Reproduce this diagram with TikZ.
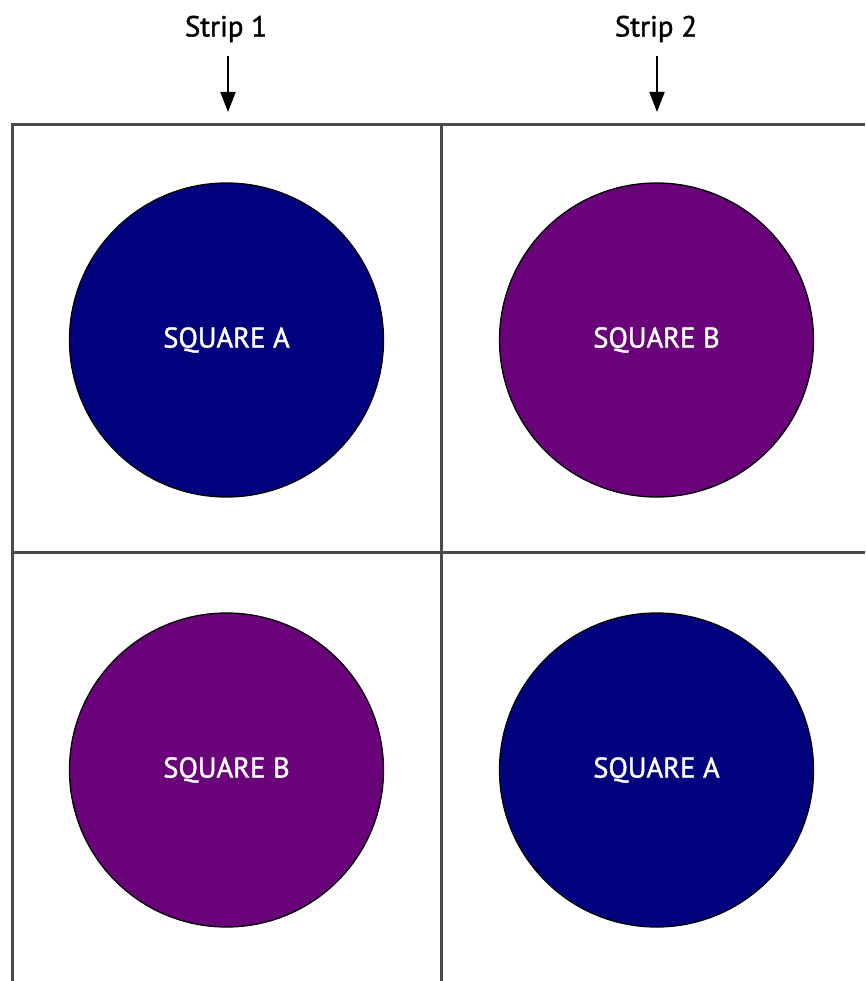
\documentclass[tikz,border=0pt]{standalone}
\usepackage{fontspec}
\setmainfont{PT Sans}[FakeBold=1.2]
\newfontfamily\semibold{PT Sans}[FakeBold=1.4, AutoFakeBold=1.4]
\usetikzlibrary{arrows.meta}
\definecolor{navyA}{HTML}{02027F}
\definecolor{purpB}{HTML}{6A027A}
\definecolor{gridgray}{HTML}{4A4A4A}
\tikzset{
  gridline/.style={draw=gridgray, line width=3pt},
  disc/.style={circle, draw=black, line width=1.3pt, minimum size=314pt, inner sep=0pt,
    text=white, font=\semibold\bfseries\fontsize{28.5}{32}\selectfont},
  discA/.style={disc, fill=navyA},
  discB/.style={disc, fill=purpB},
  striplabel/.style={font=\semibold\bfseries\fontsize{29}{33}\selectfont, text=black, inner sep=0pt},
  striparrow/.style={draw=black, line width=2pt, shorten <=14pt, -{Triangle[length=20pt,width=15pt]}}
}
\begin{document}
\begin{tikzpicture}[x=1pt,y=-1pt]
\useasboundingbox (0,0) rectangle (865,981);
\fill[white] (0,0) rectangle (865,981);
% grid
\draw[gridline] (12,124.5) -- (865,124.5);
\draw[gridline] (12,552) -- (865,552);
\draw[gridline] (12,123) -- (12,981);
\draw[gridline] (441.5,124) -- (441.5,981);
% discs
\node[discA] (a1) at (226.5,340) {SQUARE A};
\node[discB] (b1) at (656.5,340) {SQUARE B};
\node[discB] (b2) at (226.5,770) {SQUARE B};
\node[discA] (a2) at (656.5,770) {SQUARE A};
% strip labels
\node[striplabel] (s1) at (226,29) {Strip 1};
\node[striplabel] (s2) at (656,29) {Strip 2};
\coordinate (t1) at (228,112);
\coordinate (t2) at (657,112);
\draw[striparrow] (s1.south -| t1) -- (t1);
\draw[striparrow] (s2.south -| t2) -- (t2);
\end{tikzpicture}
\end{document}
